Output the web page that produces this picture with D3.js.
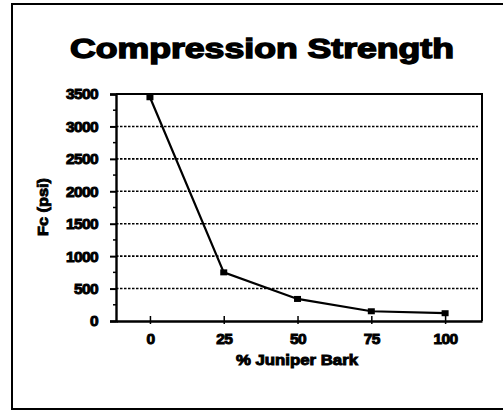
<!DOCTYPE html>
<html>
<head>
<meta charset="utf-8">
<script src="https://cdn.jsdelivr.net/npm/d3@7"></script>
<style>
  body { margin: 0; background: #fff; }
  svg { display: block; }
  text { font-family: "Liberation Sans", Arial, sans-serif; font-weight: bold; fill: #000; }
</style>
</head>
<body>
<svg width="503" height="411"></svg>
<script>
// data
var barkPct = [0, 25, 50, 75, 100];
var strength = [3450, 750, 340, 150, 120];
var yTicks = [0, 500, 1000, 1500, 2000, 2500, 3000, 3500];
var xTicks = [0, 25, 50, 75, 100];

var svg = d3.select("svg");
var plot = { left: 116, right: 482, top: 94, bottom: 321 };

var x = d3.scaleLinear().domain([-11.5, 112.5]).range([plot.left, plot.right]);
var y = d3.scaleLinear().domain([0, 3500]).range([plot.bottom, plot.top]);

// outer frame (right side runs off the page)
svg.append("path")
    .attr("d", "M540,4H12V409H540")
    .attr("fill", "none").attr("stroke", "#000").attr("stroke-width", 2);

// title
svg.append("text")
    .attr("x", 262).attr("y", 58)
    .attr("text-anchor", "middle")
    .attr("font-size", 27)
    .attr("stroke", "#000").attr("stroke-width", 1.4)
    .attr("textLength", 384).attr("lengthAdjust", "spacingAndGlyphs")
    .text("Compression Strength");

// gridlines
svg.append("g")
    .selectAll("line")
    .data(yTicks.filter(function (d) { return d > 0 && d < 3500; }))
    .enter().append("line")
    .attr("x1", plot.left).attr("x2", plot.right - 4)
    .attr("y1", function (d) { return y(d); })
    .attr("y2", function (d) { return y(d); })
    .attr("stroke", "#000").attr("stroke-width", 1.6)
    .attr("stroke-dasharray", "2.5,1.5");

// top and right border of plot
svg.append("path")
    .attr("d", "M" + plot.left + "," + plot.top + "H" + plot.right + "V" + plot.bottom)
    .attr("fill", "none").attr("stroke", "#000").attr("stroke-width", 2);

// y axis
var yAxis = svg.append("g")
    .attr("transform", "translate(" + plot.left + ",0)")
    .call(d3.axisLeft(y).tickValues(yTicks).tickSize(6).tickPadding(12).tickFormat(d3.format("d")));
yAxis.select(".domain").attr("stroke-width", 2.4);
yAxis.selectAll(".tick line").attr("stroke-width", 2);
yAxis.selectAll("text")
    .attr("font-size", 15.5).attr("font-family", "Liberation Sans, Arial, sans-serif")
    .attr("font-weight", "bold").attr("stroke", "#000").attr("stroke-width", 1)
    .attr("letter-spacing", -0.6);

// minor y ticks
svg.append("g")
    .selectAll("line")
    .data(d3.range(250, 3500, 500))
    .enter().append("line")
    .attr("x1", plot.left - 3).attr("x2", plot.left + 1)
    .attr("y1", function (d) { return y(d); })
    .attr("y2", function (d) { return y(d); })
    .attr("stroke", "#000").attr("stroke-width", 1.5);

// x axis
var xAxis = svg.append("g")
    .attr("transform", "translate(0," + plot.bottom + ")")
    .call(d3.axisBottom(x).tickValues(xTicks).tickSizeInner(4).tickSizeOuter(0).tickPadding(8));
xAxis.select(".domain").attr("stroke-width", 2.4);
xAxis.selectAll(".tick line").attr("y1", -5).attr("y2", 3).attr("stroke-width", 1.5);
xAxis.selectAll("text")
    .attr("font-size", 15.5).attr("font-family", "Liberation Sans, Arial, sans-serif")
    .attr("font-weight", "bold").attr("stroke", "#000").attr("stroke-width", 1)
    .attr("letter-spacing", -0.6);

// axis titles
svg.append("text")
    .attr("x", 297).attr("y", 365)
    .attr("text-anchor", "middle")
    .attr("font-size", 14)
    .attr("stroke", "#000").attr("stroke-width", 0.9)
    .attr("textLength", 122).attr("lengthAdjust", "spacingAndGlyphs")
    .text("% Juniper Bark");

svg.append("text")
    .attr("transform", "translate(48,207) rotate(-90)")
    .attr("text-anchor", "middle")
    .attr("font-size", 15)
    .attr("stroke", "#000").attr("stroke-width", 0.9)
    .attr("textLength", 58).attr("lengthAdjust", "spacingAndGlyphs")
    .text("Fc (psi)");

// the line
var data = barkPct.map(function (d, i) { return { pct: d, fc: strength[i] }; });
var line = d3.line()
    .x(function (d) { return x(d.pct); })
    .y(function (d) { return y(d.fc); });

svg.append("path")
    .datum(data)
    .attr("d", line)
    .attr("fill", "none").attr("stroke", "#000").attr("stroke-width", 2.2);

svg.selectAll(".pt")
    .data(data)
    .enter().append("rect")
    .attr("class", "pt")
    .attr("x", function (d) { return x(d.pct) - 3.5; })
    .attr("y", function (d) { return y(d.fc) - 3; })
    .attr("width", 7).attr("height", 6)
    .attr("fill", "#000");
</script>
</body>
</html>
